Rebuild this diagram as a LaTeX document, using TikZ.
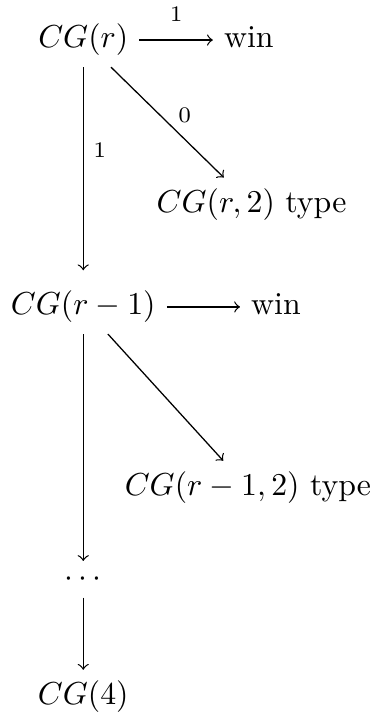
\documentclass[tikz,border=0pt]{standalone}
\begin{document}
\begin{tikzpicture}[
    lbl/.style={font=\scriptsize, inner sep=2.5pt}
  ]
    % Page frame
    \useasboundingbox (0,0) rectangle (4.10,-7.88);

    % Round r
    \node[anchor=base] (cgr) at (0.92,-0.53) {$CG(r)$};
    \node[anchor=base] (win1) at (2.75,-0.53) {win};
    \node[anchor=base] (cgr2) at (2.78,-2.35) {$CG(r,2)$ type};

    % Round r-1
    \node[anchor=base] (cgr1) at (0.92,-3.48) {$CG(r-1)$};
    \node[anchor=base] (win2) at (3.05,-3.48) {win};
    \node[anchor=base] (cgr12) at (2.74,-5.48) {$CG(r-1,2)$ type};

    % Down to the last round
    \node[anchor=base] (dots) at (0.92,-6.48) {$\cdots$};
    \node[anchor=base] (cg4) at (0.92,-7.79) {$CG(4)$};

    % Arrows from CG(r)
    \draw[->] (cgr.east) -- (win1.west |- cgr.east) node[lbl, midway, above=3pt] {$1$};
    \draw[->] (cgr) -- (cgr2) node[lbl, inner sep=1.5pt, pos=0.55, above right] {$0$};
    \draw[->, shorten >=3pt] (cgr) -- (cgr1) node[lbl, inner sep=3pt, pos=0.39, right] {$1$};

    % Arrows from CG(r-1)
    \draw[->] (cgr1.east) -- (win2.west |- cgr1.east);
    \draw[->] (cgr1) -- (cgr12);
    \draw[->] (cgr1) -- (dots);

    % Last step
    \draw[->] (dots) -- (cg4);

\end{tikzpicture}
\end{document}
